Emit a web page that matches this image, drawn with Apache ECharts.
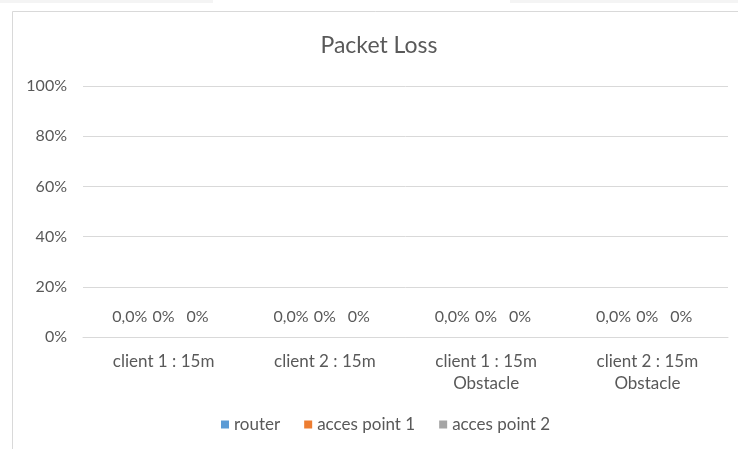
<!DOCTYPE html>
<html>
<head>
<meta charset="utf-8">
<script src="https://cdn.jsdelivr.net/npm/echarts@6/dist/echarts.min.js"></script>
<style>
html,body{margin:0;padding:0;background:#fff;}
#c{width:738px;height:449px;}
</style>
</head>
<body>
<div id="c"></div>
<script>
const categories = ['client 1 : 15m', 'client 2 : 15m', 'client 1 : 15m\nObstacle', 'client 2 : 15m\nObstacle'];
const seriesNames = ['router', 'acces point 1', 'acces point 2'];
const routerValues = [0, 0, 0, 0];
const ap1Values = [0, 0, 0, 0];
const ap2Values = [0, 0, 0, 0];
const labelDecimals = [1, 0, 0];
const yTickLabels = ['0%', '20%', '40%', '60%', '80%', '100%'];

const FONT = 'Lato';
const TXT = '#595959';
const colors = ['#5B9BD5', '#ED7D31', '#A5A5A5'];
const values = [routerValues, ap1Values, ap2Values];

function fmtPct(v, d) {
  return (v * 100).toFixed(d).replace('.', ',') + '%';
}

const chart = echarts.init(document.getElementById('c'), null, {renderer: 'canvas'});
chart.setOption({
  animation: false,
  backgroundColor: '#fff',
  textStyle: {fontFamily: FONT},
  graphic: [
    {type: 'rect', silent: true, z: -10, shape: {x: 0, y: 0, width: 213, height: 3}, style: {fill: '#F4F4F4'}},
    {type: 'rect', silent: true, z: -10, shape: {x: 510, y: 0, width: 228, height: 3}, style: {fill: '#F4F4F4'}},
    {type: 'rect', silent: true, z: -10, shape: {x: 12.5, y: 11.5, width: 740, height: 460}, style: {fill: 'none', stroke: '#D9D9D9', lineWidth: 1}}
  ],
  title: {
    text: 'Packet Loss',
    left: 374,
    textAlign: 'center',
    top: 29,
    textStyle: {fontFamily: FONT, fontSize: 23, fontWeight: 'normal', color: TXT}
  },
  legend: {
    data: seriesNames,
    left: 221,
    top: 416,
    padding: 0,
    icon: 'rect',
    itemWidth: 8,
    itemHeight: 8,
    itemGap: 24,
    textStyle: {fontFamily: FONT, fontSize: 17, color: TXT}
  },
  grid: {left: 83, right: 10, top: 86, bottom: 112, containLabel: false},
  xAxis: {
    type: 'category',
    data: categories,
    axisLine: {show: true, lineStyle: {color: '#D9D9D9', width: 1}},
    axisTick: {show: false},
    axisLabel: {fontFamily: FONT, fontSize: 17, color: TXT, margin: 14, lineHeight: 22, interval: 0}
  },
  yAxis: {
    type: 'value',
    min: 0,
    max: 1,
    interval: 0.2,
    axisLine: {show: false},
    axisTick: {show: false},
    splitLine: {lineStyle: {color: '#D9D9D9', width: 1}},
    axisLabel: {
      fontFamily: FONT, fontSize: 16, color: TXT, margin: 16,
      formatter: function (v) { return yTickLabels[Math.round(v / 0.2)]; }
    }
  },
  series: seriesNames.map(function (name, i) {
    return {
      name: name,
      type: 'bar',
      data: values[i],
      barGap: '0%',
      barCategoryGap: '37%',
      itemStyle: {color: colors[i]},
      label: {
        show: true,
        position: 'top',
        distance: 12,
        fontFamily: FONT,
        fontSize: 16,
        color: TXT,
        formatter: function (p) { return fmtPct(p.value, labelDecimals[i]); }
      }
    };
  })
});
</script>
</body>
</html>
